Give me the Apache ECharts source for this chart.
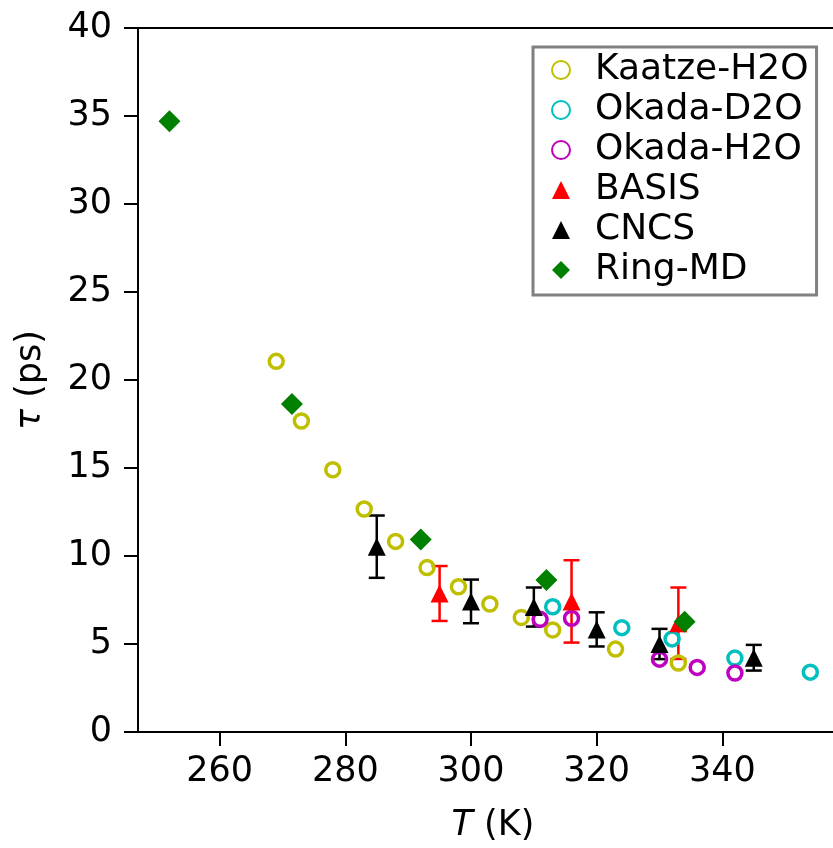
<!DOCTYPE html>
<html lang="en">
<head>
    <meta charset="UTF-8">
    <title>tau vs T</title>
    <style>
        html, body { margin: 0; padding: 0; overflow: hidden; background: #fff; }
    </style>
</head>
<body>
    <div id="container" style="height: 848px;width: 900px;"></div>
</body>
</html>
<script src="https://cdn.jsdelivr.net/npm/echarts@6/dist/echarts.min.js"></script>
<script type="text/javascript">
    // data
    var kaatzeT = [269, 273, 278, 283, 288, 293, 298, 303, 308, 313, 323, 333];
    var kaatzeTau = [21.06, 17.67, 14.9, 12.67, 10.83, 9.34, 8.25, 7.27, 6.51, 5.80, 4.71, 3.92];
    var okadaD2OT = [313, 324, 332, 342, 354];
    var okadaD2OTau = [7.12, 5.93, 5.29, 4.20, 3.4];
    var okadaH2OT = [311, 316, 330, 336, 342];
    var okadaH2OTau = [6.40, 6.46, 4.14, 3.67, 3.35];
    var basisT = [295, 316, 333];
    var basisTau = [7.87, 7.42, 6.18];
    var basisErr = [1.56, 2.34, 2.03];
    var cncsT = [285, 300, 310, 320, 330, 345];
    var cncsTau = [10.53, 7.42, 7.10, 5.83, 5.00, 4.22];
    var cncsErr = [1.77, 1.24, 1.11, 0.97, 0.86, 0.73];
    var ringT = [252, 271.5, 292, 312, 334];
    var ringTau = [34.7, 18.64, 10.94, 8.63, 6.27];
    var xTicks = [260, 280, 300, 320, 340];

    var font = 'DejaVu Sans';
    var fs = 35;

    function pairs(xs, ys) {
        return xs.map(function (x, i) { return [x, ys[i]]; });
    }
    function errData(xs, ys, es) {
        return xs.map(function (x, i) { return [x, ys[i] - es[i], ys[i] + es[i]]; });
    }
    // vertical error bar with caps
    function errRender(color) {
        return function (params, api) {
            var lo = api.coord([api.value(0), api.value(1)]);
            var hi = api.coord([api.value(0), api.value(2)]);
            var w = 8;
            var st = { stroke: color, lineWidth: 2.5 };
            return {
                type: 'group',
                children: [
                    { type: 'line', shape: { x1: lo[0], y1: lo[1], x2: hi[0], y2: hi[1] }, style: st },
                    { type: 'line', shape: { x1: lo[0] - w, y1: lo[1], x2: lo[0] + w, y2: lo[1] }, style: st },
                    { type: 'line', shape: { x1: hi[0] - w, y1: hi[1], x2: hi[0] + w, y2: hi[1] }, style: st }
                ]
            };
        };
    }
    function openCircle(name, xs, ys, color) {
        return {
            name: name, type: 'scatter', data: pairs(xs, ys),
            symbol: 'circle', symbolSize: 14,
            itemStyle: { color: 'rgba(255,255,255,0)', borderColor: color, borderWidth: 3.5, opacity: 1 }
        };
    }

    var myChart = echarts.init(document.getElementById('container'));
    var option = {
        animation: false,
        backgroundColor: '#fff',
        textStyle: { fontFamily: font },
        grid: {
            left: 138, top: 28, width: 710, height: 708,
            show: true, borderColor: '#000', borderWidth: 2, backgroundColor: 'transparent'
        },
        xAxis: {
            type: 'value', min: 247, max: 360,
            name: '{i|T} (K)', nameLocation: 'middle', nameGap: 76,
            nameTextStyle: { fontSize: fs, color: '#000', fontFamily: font,
                rich: { i: { fontSize: fs, fontStyle: 'italic', fontFamily: font, color: '#000' } } },
            axisLine: { show: true, lineStyle: { color: '#000', width: 2 } },
            axisTick: { show: true, inside: false, length: 14, lineStyle: { color: '#000', width: 2 }, customValues: xTicks },
            axisLabel: { fontSize: fs, color: '#000', margin: 22, fontFamily: font, customValues: xTicks },
            splitLine: { show: false }
        },
        yAxis: {
            type: 'value', min: 0, max: 40, interval: 5,
            name: '{i|τ} (ps)', nameLocation: 'middle', nameGap: 90,
            nameTextStyle: { fontSize: fs, color: '#000', fontFamily: font,
                rich: { i: { fontSize: fs, fontStyle: 'italic', fontFamily: font, color: '#000' } } },
            axisLine: { show: true, lineStyle: { color: '#000', width: 2 } },
            axisTick: { show: true, inside: false, length: 14, lineStyle: { color: '#000', width: 2 } },
            axisLabel: { fontSize: fs, color: '#000', margin: 26, fontFamily: font },
            splitLine: { show: false }
        },
        legend: {
            orient: 'vertical', left: 533, top: 47,
            data: ['Kaatze-H2O', 'Okada-D2O', 'Okada-H2O', 'BASIS', 'CNCS', 'Ring-MD'],
            backgroundColor: '#fff', borderColor: '#808080', borderWidth: 3, borderRadius: 0,
            padding: [5, 8, 7, 18],
            itemWidth: 18, itemHeight: 18, itemGap: 4,
            textStyle: { fontSize: 36, color: '#000', fontFamily: font, lineHeight: 30, padding: [0, 0, 0, 20] }
        },
        series: [
            openCircle('Kaatze-H2O', kaatzeT, kaatzeTau, '#bfbf00'),
            openCircle('Okada-D2O', okadaD2OT, okadaD2OTau, '#00bfbf'),
            openCircle('Okada-H2O', okadaH2OT, okadaH2OTau, '#bf00bf'),
            { name: 'BASIS-err', type: 'custom', data: errData(basisT, basisTau, basisErr),
              renderItem: errRender('#ff0000'), encode: { x: 0, y: [1, 2] }, silent: true },
            { name: 'BASIS', type: 'scatter', data: pairs(basisT, basisTau),
              symbol: 'triangle', symbolSize: 18, itemStyle: { color: '#ff0000', opacity: 1 } },
            { name: 'CNCS-err', type: 'custom', data: errData(cncsT, cncsTau, cncsErr),
              renderItem: errRender('#000000'), encode: { x: 0, y: [1, 2] }, silent: true },
            { name: 'CNCS', type: 'scatter', data: pairs(cncsT, cncsTau),
              symbol: 'triangle', symbolSize: 18, itemStyle: { color: '#000000', opacity: 1 } },
            { name: 'Ring-MD', type: 'scatter', data: pairs(ringT, ringTau),
              symbol: 'diamond', symbolSize: 22, itemStyle: { color: '#008000', opacity: 1 } }
        ]
    };
    myChart.setOption(option, true);
</script>
